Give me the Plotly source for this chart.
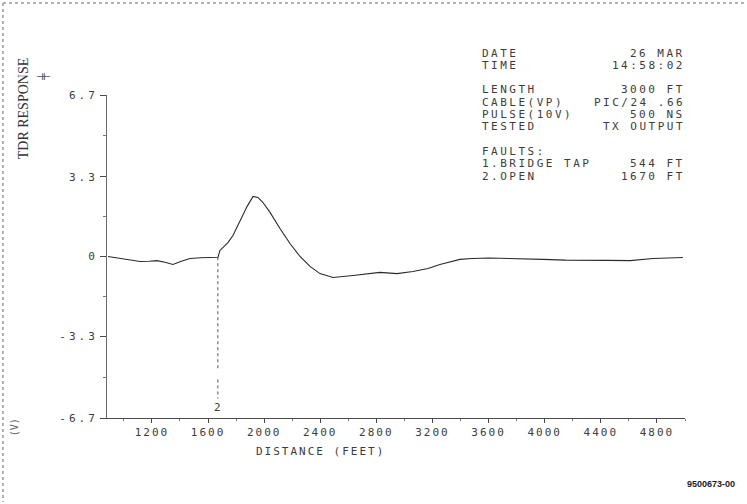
import numpy as np
import plotly.graph_objects as go

# ---- data ----
distance_ft = [887, 1000, 1115, 1180, 1236, 1300, 1350, 1410, 1472, 1550, 1636, 1671, 1685,
               1742, 1778, 1828, 1878, 1921, 1956, 1992, 2042, 2113, 2184, 2256, 2327,
               2398, 2491, 2633, 2720, 2826, 2947, 3061, 3168, 3253, 3396, 3482, 3600,
               3802, 3988, 4150, 4301, 4450, 4608, 4772, 4985]
response_v = [0.0, -0.10, -0.21, -0.20, -0.17, -0.25, -0.33, -0.20, -0.08, -0.05, -0.04, -0.03, 0.25,
              0.58, 0.87, 1.49, 2.07, 2.49, 2.45, 2.24, 1.83, 1.16, 0.54, 0.0, -0.41,
              -0.71, -0.87, -0.79, -0.72, -0.66, -0.71, -0.62, -0.50, -0.33, -0.12, -0.08, -0.06,
              -0.08, -0.12, -0.15, -0.17, -0.16, -0.17, -0.08, -0.04]

x_tick_vals = [1200, 1600, 2000, 2400, 2800, 3200, 3600, 4000, 4400, 4800]
x_tick_text = ["1200", "1600", "2000", "2400", "2800", "3200", "3600", "4000", "4400", "4800"]
y_tick_vals = [-6.7, -3.3, 0, 3.3, 6.7]
y_tick_text = ["-6.7", "-3.3", "0", "3.3", "6.7"]
y_minor_vals = [-5.0, -1.65, 1.65, 5.0]

info_labels = ["DATE", "TIME", "", "LENGTH", "CABLE(VP)", "PULSE(10V)", "TESTED", "",
               "FAULTS:", "1.BRIDGE TAP", "2.OPEN"]
info_values = ["26 MAR", "14:58:02", "", "3000 FT", "PIC/24 .66", "500 NS", "TX OUTPUT", "",
               "", "544 FT", "1670 FT"]
fault_numbers = [1, 2]
fault_distances = [544, 1670]

X_RANGE = [880, 5000]
Y_RANGE = [-6.7, 6.7]

DOT_FONT = "DejaVu Sans Mono"
INK = "#3c3c3c"


def spaced(t, sp=2.5):
    return f"<span style='letter-spacing:{sp}px'>{t}</span>"


fig = go.Figure()

fig.add_trace(go.Scatter(
    x=distance_ft, y=response_v, mode="lines",
    line=dict(color="#2a2a2a", width=1.1),
    hoverinfo="skip", showlegend=False))

# fault markers (dotted drop lines) for faults inside the displayed range
for num, d in zip(fault_numbers, fault_distances):
    if X_RANGE[0] <= d <= X_RANGE[1]:
        yc = float(np.interp(d, distance_ft, response_v))
        fig.add_trace(go.Scatter(
            x=[d, d, None, d, d], y=[yc, -4.75, None, -5.1, -5.9], mode="lines",
            line=dict(color="#555555", width=1, dash="dot"),
            hoverinfo="skip", showlegend=False))
        fig.add_annotation(x=d, y=-6.25, text=str(num), showarrow=False,
                           font=dict(family=DOT_FONT, size=11, color=INK),
                           xanchor="center", yanchor="middle")

# info block top right
top_px, step_px = 53, 12.3
plot_top, plot_h = 95, 323
for i, (lab, val) in enumerate(zip(info_labels, info_values)):
    py = top_px + step_px * i
    yp = (plot_top + plot_h - py) / plot_h
    if lab:
        fig.add_annotation(xref="paper", yref="paper", x=0.645, y=yp, text=spaced(lab),
                           showarrow=False, xanchor="left", yanchor="middle",
                           font=dict(family=DOT_FONT, size=11, color=INK))
    if val:
        fig.add_annotation(xref="paper", yref="paper", x=1.004, y=yp, text=spaced(val),
                           showarrow=False, xanchor="right", yanchor="middle",
                           font=dict(family=DOT_FONT, size=11, color=INK))

# axis titles
fig.add_annotation(xref="paper", yref="paper", x=-0.143, y=0.96, text="TDR RESPONSE",
                   textangle=-90, showarrow=False, xanchor="center", yanchor="middle",
                   font=dict(family="Liberation Serif", size=14, color="#333333"))
fig.add_annotation(xref="paper", yref="paper", x=-0.111, y=1.055, text="╪",
                   textangle=-90, showarrow=False, xanchor="center", yanchor="middle",
                   font=dict(family="DejaVu Sans Mono", size=11, color="#555555"))
fig.add_annotation(xref="paper", yref="paper", x=-0.16, y=-0.03, text="(V)",
                   textangle=-90, showarrow=False, xanchor="center", yanchor="middle",
                   font=dict(family=DOT_FONT, size=10, color="#555555"))
fig.add_annotation(xref="paper", yref="paper", x=0.37, y=-0.105, text=spaced("DISTANCE (FEET)", 2),
                   showarrow=False, xanchor="center", yanchor="middle",
                   font=dict(family=DOT_FONT, size=11, color=INK))
fig.add_annotation(xref="paper", yref="paper", x=1.045, y=-0.205, text="<b>9500673-00</b>",
                   showarrow=False, xanchor="center", yanchor="middle",
                   font=dict(family="Liberation Sans", size=9, color="#222222"))

# scan border (dotted edges of the scanned page)
fig.add_shape(type="line", xref="paper", yref="paper", x0=-0.18, x1=1.11, y0=1.285, y1=1.285,
              line=dict(color="#9a9a9a", width=1.5, dash="dot"))
fig.add_shape(type="line", xref="paper", yref="paper", x0=-0.18, x1=-0.18, y0=1.285, y1=-0.26,
              line=dict(color="#9a9a9a", width=1.5, dash="dot"))

fig.update_layout(
    width=747, height=504,
    margin=dict(l=107, r=62, t=95, b=86),
    paper_bgcolor="white", plot_bgcolor="white",
    showlegend=False,
    xaxis=dict(range=X_RANGE, tickmode="array", tickvals=x_tick_vals,
               ticktext=[spaced(t, 2) for t in x_tick_text],
               showgrid=False, zeroline=False, showline=True, linecolor="#4a4a4a", linewidth=1,
               ticks="outside", ticklen=4, tickcolor="#4a4a4a",
               minor=dict(dtick=200, tick0=0, ticks="outside", ticklen=2, tickcolor="#777777"),
               tickfont=dict(family=DOT_FONT, size=11, color=INK)),
    yaxis=dict(range=Y_RANGE, tickmode="array", tickvals=y_tick_vals,
               ticktext=[spaced(t, 3) for t in y_tick_text],
               showgrid=False, zeroline=False, showline=True, linecolor="#6a6a6a", linewidth=1,
               ticks="outside", ticklen=6, tickcolor="#4a4a4a",
               minor=dict(tickmode="array", tickvals=y_minor_vals, ticks="outside", ticklen=3,
                          tickcolor="#777777"),
               tickfont=dict(family=DOT_FONT, size=11, color=INK)),
)

fig.write_html("out.html", config={"displayModeBar": False},
               post_script="document.body.style.margin='0';document.body.style.overflow='hidden';")
